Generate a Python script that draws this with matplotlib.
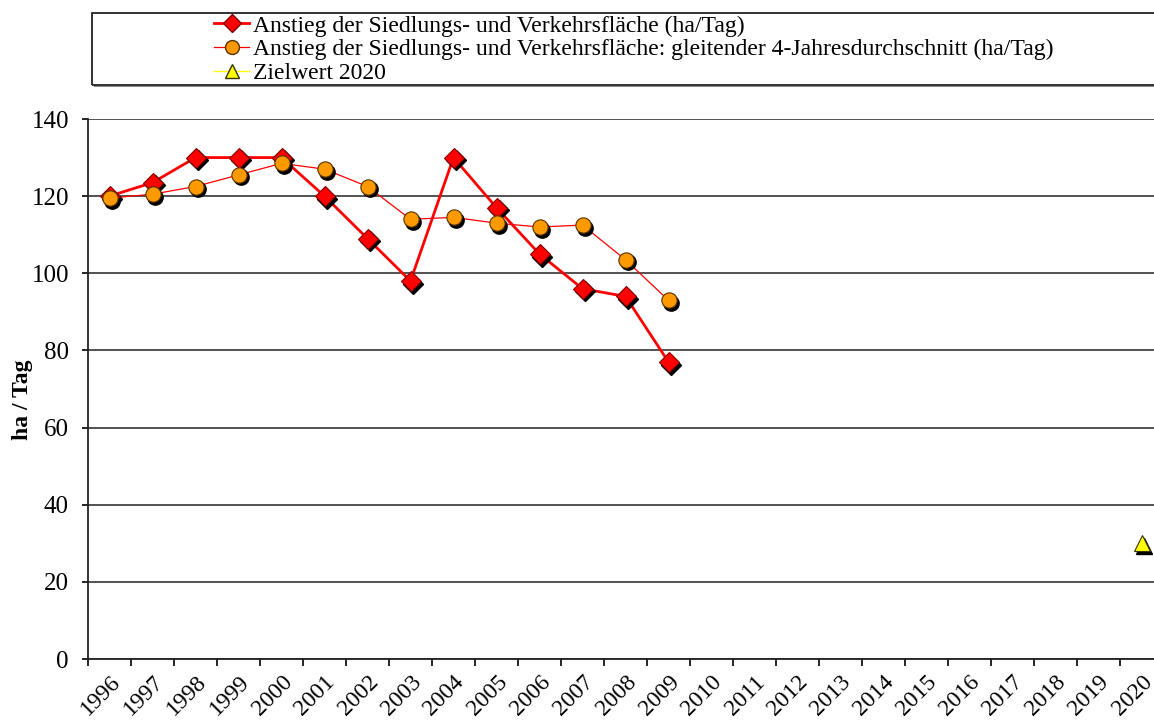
import matplotlib
matplotlib.use("Agg")
import matplotlib.pyplot as plt
import matplotlib.transforms as mtransforms
from matplotlib.lines import Line2D
from matplotlib.patches import Rectangle
import numpy as np

years = [str(y) for y in range(1996, 2021)]
annual = [120, 123.5, 130, 130, 130, 120, 109, 98, 130, 117, 105, 96, 94, 77]
moving_avg = [119.5, 120.5, 122.5, 125.5, 128.5, 127, 122.5, 114, 114.5, 113, 112, 112.5, 103.5, 93]
target_year = "2020"
target_value = 30

label_annual = "Anstieg der Siedlungs- und Verkehrsfläche (ha/Tag)"
label_avg = "Anstieg der Siedlungs- und Verkehrsfläche: gleitender 4-Jahresdurchschnitt (ha/Tag)"
label_target = "Zielwert 2020"

plt.rcParams['font.family'] = ['Liberation Serif', 'DejaVu Serif']

W, H = 1154, 720
fig = plt.figure(figsize=(W / 100, H / 100), dpi=100)
ax = fig.add_axes([88 / W, 1 - 659 / H, (1163 - 88) / W, (659 - 119) / H])

x = np.arange(len(years))
xa = x[:len(annual)]
xm = x[:len(moving_avg)]
xt = years.index(target_year)

shadow = mtransforms.offset_copy(ax.transData, fig=fig, x=2.5, y=-2.5, units='dots')

# lines
ax.plot(xa, annual, color='#ff0000', lw=2.0, zorder=3)
ax.plot(xm, moving_avg, color='#ff0000', lw=0.9, zorder=3)

# shadows
ax.plot(xa, annual, ls='none', marker='D', ms=10, color='black', transform=shadow, zorder=4)
ax.plot(xm, moving_avg, ls='none', marker='o', ms=11, color='black', transform=shadow, zorder=4)
ax.plot([xt], [target_value], ls='none', marker='^', ms=11, color='black', transform=shadow, zorder=4)

# markers
ax.plot(xa, annual, ls='none', marker='D', ms=10, mfc='#ff0000', mec='#800000', mew=0.8, zorder=5)
ax.plot(xm, moving_avg, ls='none', marker='o', ms=11, mfc='#ff9900', mec='#553300', mew=0.8, zorder=5)
ax.plot([xt], [target_value], ls='none', marker='^', ms=11, mfc='#ffff00', mec='#333300', mew=0.8, zorder=5)

ax.set_xlim(-0.5, len(years) - 0.5)
ax.set_ylim(0, 140)
ax.set_yticks(range(0, 141, 20))
ax.set_xticks(np.arange(-0.5, len(years), 1.0))
ax.set_xticklabels([])
ax.set_xticks(x, minor=True)
ax.set_xticklabels(years, minor=True, rotation=45, ha='right', va='top',
                   rotation_mode='anchor', fontsize=17)
ax.tick_params(axis='x', which='minor', length=0, pad=9)
ax.tick_params(axis='x', which='major', length=5, width=1.2, direction='out')
ax.tick_params(axis='y', length=4.3, width=1.2, direction='out', labelsize=18, pad=9.4)

ax.grid(axis='y', color='#444444', lw=1.3)
ax.set_axisbelow(True)
for s in ['top', 'right']:
    ax.spines[s].set_visible(False)
for s in ['left', 'bottom']:
    ax.spines[s].set_linewidth(1.3)
    ax.spines[s].set_color('#222222')

ax.set_ylabel("ha / Tag", fontsize=17, fontweight='bold')
ax.yaxis.set_label_coords(-0.051, 0.48)

# legend box
fig.patches.append(Rectangle((92 / W, 1 - 85 / H), (1160 - 92) / W, (85 - 13) / H,
                             transform=fig.transFigure, fill=False, ec='#222222', lw=1.3))
fig.patches.append(Rectangle((94 / W, 1 - 87 / H), (1160 - 94) / W, 1.5 / H,
                             transform=fig.transFigure, fc='#888888', ec='none'))

handles = [
    Line2D([], [], color='#ff0000', lw=2.0, marker='D', ms=9, mfc='#ff0000', mec='#800000'),
    Line2D([], [], color='#ff0000', lw=0.9, marker='o', ms=10, mfc='#ff9900', mec='#553300'),
    Line2D([], [], color='#ffff00', lw=1.0, marker='^', ms=10, mfc='#ffff00', mec='#333300'),
]
fig.legend(handles, [label_annual, label_avg, label_target], loc='upper left',
           bbox_to_anchor=(214 / W, 1 - 15 / H), frameon=False, fontsize=17,
           handlelength=1.5, handletextpad=0.15, labelspacing=0.1, borderaxespad=0,
           borderpad=0.0)

fig.savefig("out.png", dpi=100)
